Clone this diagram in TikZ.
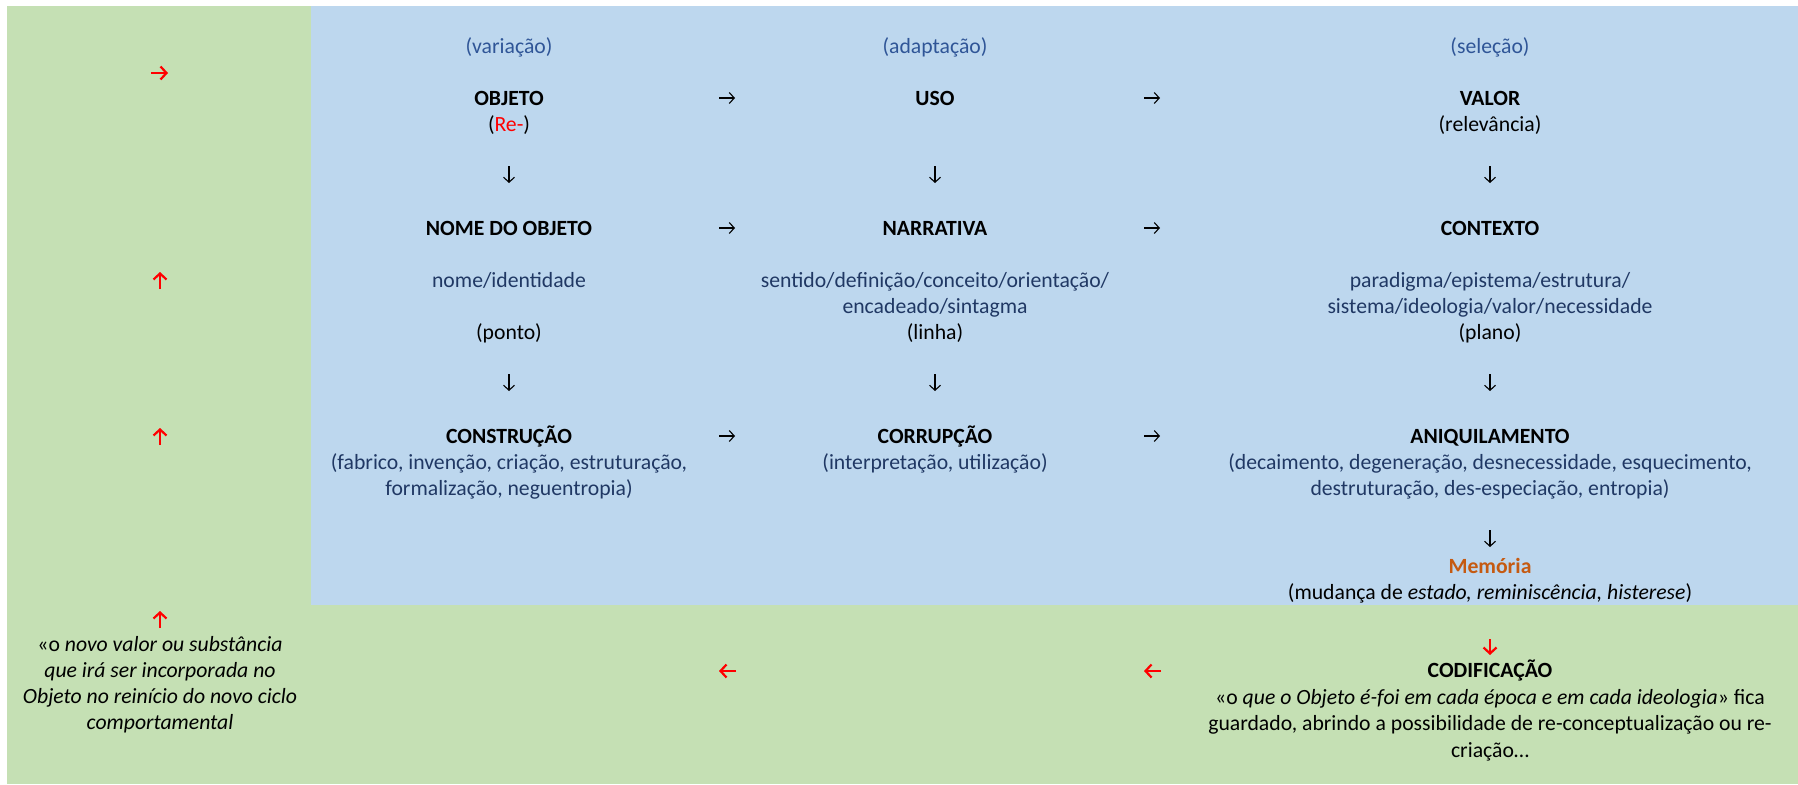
\documentclass[tikz,border=0pt]{standalone}
\usepackage{fontspec}
\setmainfont{Carlito}
\usetikzlibrary{arrows.meta}
\definecolor{gbg}{HTML}{C5E0B4}
\definecolor{bbg}{HTML}{BDD7EE}
\definecolor{hdblue}{HTML}{2F5597}
\definecolor{dsblue}{HTML}{203864}
\definecolor{memo}{HTML}{C55A11}
\definecolor{redarr}{HTML}{FF0000}
\newcommand\fs{\fontsize{21.7}{26}\selectfont}
\begin{document}
\begin{tikzpicture}[x=1pt,y=-1pt,
  txt/.style={anchor=base, inner sep=0pt, font=\fs},
  hd/.style={txt, text=hdblue},
  ds/.style={txt, text=dsblue},
  bf/.style={txt, font=\fs\bfseries},
  blk/.style={line width=1.1pt, -{Straight Barb[length=5pt,width=11pt]}},
  redarrow/.style={draw=redarr, line width=2.2pt, -{Straight Barb[length=6pt,width=13pt]}}]
\useasboundingbox (0,0) rectangle (1798,784);
\fill[white] (0,0) rectangle (1798,784);
\fill[gbg] (7,6) rectangle (1798,784);
\fill[bbg] (311,6) rectangle (1798,605);
% row: headings
\node[hd] (var) at (509,53) {(variação)};
\node[hd] (adap) at (935,53) {(adaptação)};
\node[hd] (sel) at (1490,53) {(seleção)};
\node[bf] (obj) at (509,105) {OBJETO};
\node[bf] (uso) at (935,105) {USO};
\node[bf] (valor) at (1490,105) {VALOR};
\node[txt] (re) at (509,131) {(\textcolor{redarr}{Re-})};
\node[txt] (relev) at (1490,131) {(relevância)};
\node[bf] (nome) at (509,235) {NOME DO OBJETO};
\node[bf] (narr) at (935,235) {NARRATIVA};
\node[bf] (cont) at (1490,235) {CONTEXTO};
\node[ds] (ident) at (509,287) {nome/identidade};
\node[ds] (sent1) at (935,287) {sentido/definição/conceito/orientação/};
\node[ds] (sent2) at (935,313) {encadeado/sintagma};
\node[ds] (par1) at (1490,287) {paradigma/epistema/estrutura/};
\node[ds] (par2) at (1490,313) {sistema/ideologia/valor/necessidade};
\node[txt] (ponto) at (509,339) {(ponto)};
\node[txt] (linha) at (935,339) {(linha)};
\node[txt] (plano) at (1490,339) {(plano)};
\node[bf] (constr) at (509,443) {CONSTRUÇÃO};
\node[bf] (corr) at (935,443) {CORRUPÇÃO};
\node[bf] (aniq) at (1490,443) {ANIQUILAMENTO};
\node[ds] (fab1) at (509,469) {(fabrico, invenção, criação, estruturação,};
\node[ds] (fab2) at (509,495) {formalização, neguentropia)};
\node[ds] (interp) at (935,469) {(interpretação, utilização)};
\node[ds] (dec1) at (1490,469) {(decaimento, degeneração, desnecessidade, esquecimento,};
\node[ds] (dec2) at (1490,495) {destruturação, des-especiação, entropia)};
\node[bf, text=memo] (mem) at (1490,573) {Memória};
\node[txt] (mud) at (1490,599) {(mudança de \textit{estado, reminiscência, histerese})};
\node[txt] (novo1) at (160,651) {«o \textit{novo valor ou substância}};
\node[txt] (novo2) at (160,677) {\textit{que irá ser incorporada no}};
\node[txt] (novo3) at (160,703) {\textit{Objeto no reinício do novo ciclo}};
\node[txt] (novo4) at (160,729) {\textit{comportamental}};
\node[bf] (cod) at (1490,677) {CODIFICAÇÃO};
\node[txt] (cod1) at (1490,704) {«o \textit{que o Objeto é-foi em cada época e em cada ideologia}» fica};
\node[txt] (cod2) at (1490,730) {guardado, abrindo a possibilidade de re-conceptualização ou re-};
\node[txt] (cod3) at (1490,757) {criação…};
% black horizontal arrows
\foreach \x/\y [count=\i] in {727/98, 1152/98, 727/228, 1152/228, 727/436, 1152/436} {
  \coordinate (hs\i) at (\x-8,\y);
  \coordinate (he\i) at (\x+8,\y);
  \draw[blk] (hs\i) -- (he\i);
}
% black vertical arrows
\foreach \x/\y [count=\i] in {509/183, 935/183, 1490/183, 509/391, 935/391, 1490/391, 1490/547} {
  \coordinate (vs\i) at (\x,\y-17);
  \coordinate (ve\i) at (\x,\y);
  \draw[blk] (vs\i) -- (ve\i);
}
% red arrows
\coordinate (r1s) at (151,73); \coordinate (r1e) at (168,73);
\draw[redarrow] (r1s) -- (r1e);
\foreach \y [count=\i] in {289, 445, 628} {
  \coordinate (us\i) at (160,\y);
  \coordinate (ue\i) at (160,\y-17);
  \draw[redarrow] (us\i) -- (ue\i);
}
\coordinate (ds1) at (1490,639); \coordinate (de1) at (1490,655);
\draw[redarrow] (ds1) -- (de1);
\coordinate (ls1) at (1161,671); \coordinate (le1) at (1144,671);
\draw[redarrow] (ls1) -- (le1);
\coordinate (ls2) at (736,671); \coordinate (le2) at (719,671);
\draw[redarrow] (ls2) -- (le2);
\end{tikzpicture}
\end{document}
